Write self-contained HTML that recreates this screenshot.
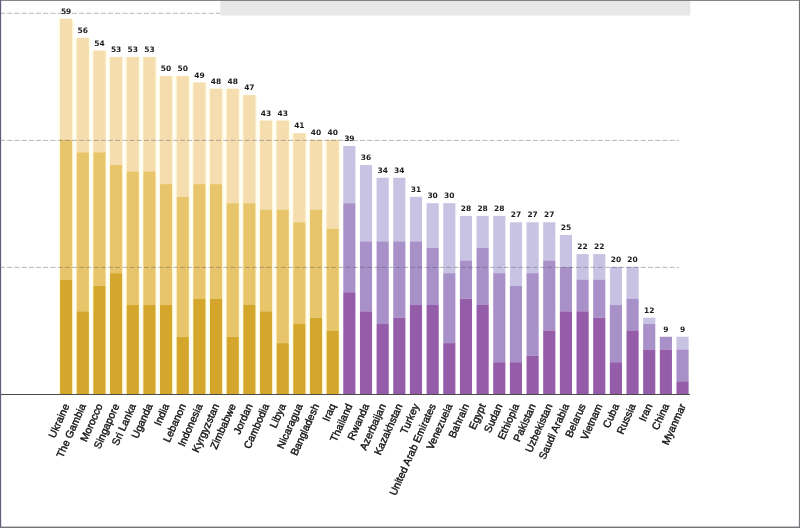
<!DOCTYPE html>
<html><head><meta charset="utf-8"><title>Chart</title>
<style>
html,body{margin:0;padding:0;background:#fff;}
body{width:800px;height:528px;overflow:hidden;}
svg{display:block;font-family:"Liberation Sans","DejaVu Sans",sans-serif;}
.v{font-family:"DejaVu Sans","Liberation Sans",sans-serif;font-size:7.5px;font-weight:bold;fill:#1c1c1c;text-anchor:middle;}
.l{font-size:10.5px;fill:#141414;stroke:#141414;stroke-width:0.4px;text-anchor:end;}
</style></head><body>
<svg width="800" height="528" viewBox="0 0 800 528">
<rect x="0" y="0" width="800" height="528" fill="#ffffff"/>
<rect x="220.3" y="0" width="470" height="15.5" fill="#e7e7e8"/>
<rect x="58.45" y="18.76" width="15.35" height="375.24" fill="#FFFCE3"/><rect x="75.11" y="37.84" width="15.35" height="356.16" fill="#FFFCE3"/><rect x="91.77" y="50.56" width="15.35" height="343.44" fill="#FFFCE3"/><rect x="108.43" y="56.92" width="15.35" height="337.08" fill="#FFFCE3"/><rect x="125.09" y="56.92" width="15.35" height="337.08" fill="#FFFCE3"/><rect x="141.75" y="56.92" width="15.35" height="337.08" fill="#FFFCE3"/><rect x="158.41" y="76.00" width="15.35" height="318.00" fill="#FFFCE3"/><rect x="175.07" y="76.00" width="15.35" height="318.00" fill="#FFFCE3"/><rect x="191.73" y="82.36" width="15.35" height="311.64" fill="#FFFCE3"/><rect x="208.39" y="88.72" width="15.35" height="305.28" fill="#FFFCE3"/><rect x="225.05" y="88.72" width="15.35" height="305.28" fill="#FFFCE3"/><rect x="241.71" y="95.08" width="15.35" height="298.92" fill="#FFFCE3"/><rect x="258.37" y="120.52" width="15.35" height="273.48" fill="#FFFCE3"/><rect x="275.03" y="120.52" width="15.35" height="273.48" fill="#FFFCE3"/><rect x="291.69" y="133.24" width="15.35" height="260.76" fill="#FFFCE3"/><rect x="308.35" y="139.60" width="15.35" height="254.40" fill="#FFFCE3"/><rect x="325.01" y="139.60" width="15.35" height="254.40" fill="#FFFCE3"/>
<rect x="60.05" y="18.76" width="12.15" height="120.84" fill="#F5DDB0"/><rect x="60.05" y="139.60" width="12.15" height="139.92" fill="#E8C46B"/><rect x="60.05" y="279.52" width="12.15" height="114.48" fill="#D4A62C"/><rect x="76.71" y="37.84" width="12.15" height="114.48" fill="#F5DDB0"/><rect x="76.71" y="152.32" width="12.15" height="159.00" fill="#E8C46B"/><rect x="76.71" y="311.32" width="12.15" height="82.68" fill="#D4A62C"/><rect x="93.37" y="50.56" width="12.15" height="101.76" fill="#F5DDB0"/><rect x="93.37" y="152.32" width="12.15" height="133.56" fill="#E8C46B"/><rect x="93.37" y="285.88" width="12.15" height="108.12" fill="#D4A62C"/><rect x="110.03" y="56.92" width="12.15" height="108.12" fill="#F5DDB0"/><rect x="110.03" y="165.04" width="12.15" height="108.12" fill="#E8C46B"/><rect x="110.03" y="273.16" width="12.15" height="120.84" fill="#D4A62C"/><rect x="126.69" y="56.92" width="12.15" height="114.48" fill="#F5DDB0"/><rect x="126.69" y="171.40" width="12.15" height="133.56" fill="#E8C46B"/><rect x="126.69" y="304.96" width="12.15" height="89.04" fill="#D4A62C"/><rect x="143.35" y="56.92" width="12.15" height="114.48" fill="#F5DDB0"/><rect x="143.35" y="171.40" width="12.15" height="133.56" fill="#E8C46B"/><rect x="143.35" y="304.96" width="12.15" height="89.04" fill="#D4A62C"/><rect x="160.01" y="76.00" width="12.15" height="108.12" fill="#F5DDB0"/><rect x="160.01" y="184.12" width="12.15" height="120.84" fill="#E8C46B"/><rect x="160.01" y="304.96" width="12.15" height="89.04" fill="#D4A62C"/><rect x="176.67" y="76.00" width="12.15" height="120.84" fill="#F5DDB0"/><rect x="176.67" y="196.84" width="12.15" height="139.92" fill="#E8C46B"/><rect x="176.67" y="336.76" width="12.15" height="57.24" fill="#D4A62C"/><rect x="193.33" y="82.36" width="12.15" height="101.76" fill="#F5DDB0"/><rect x="193.33" y="184.12" width="12.15" height="114.48" fill="#E8C46B"/><rect x="193.33" y="298.60" width="12.15" height="95.40" fill="#D4A62C"/><rect x="209.99" y="88.72" width="12.15" height="95.40" fill="#F5DDB0"/><rect x="209.99" y="184.12" width="12.15" height="114.48" fill="#E8C46B"/><rect x="209.99" y="298.60" width="12.15" height="95.40" fill="#D4A62C"/><rect x="226.65" y="88.72" width="12.15" height="114.48" fill="#F5DDB0"/><rect x="226.65" y="203.20" width="12.15" height="133.56" fill="#E8C46B"/><rect x="226.65" y="336.76" width="12.15" height="57.24" fill="#D4A62C"/><rect x="243.31" y="95.08" width="12.15" height="108.12" fill="#F5DDB0"/><rect x="243.31" y="203.20" width="12.15" height="101.76" fill="#E8C46B"/><rect x="243.31" y="304.96" width="12.15" height="89.04" fill="#D4A62C"/><rect x="259.97" y="120.52" width="12.15" height="89.04" fill="#F5DDB0"/><rect x="259.97" y="209.56" width="12.15" height="101.76" fill="#E8C46B"/><rect x="259.97" y="311.32" width="12.15" height="82.68" fill="#D4A62C"/><rect x="276.63" y="120.52" width="12.15" height="89.04" fill="#F5DDB0"/><rect x="276.63" y="209.56" width="12.15" height="133.56" fill="#E8C46B"/><rect x="276.63" y="343.12" width="12.15" height="50.88" fill="#D4A62C"/><rect x="293.29" y="133.24" width="12.15" height="89.04" fill="#F5DDB0"/><rect x="293.29" y="222.28" width="12.15" height="101.76" fill="#E8C46B"/><rect x="293.29" y="324.04" width="12.15" height="69.96" fill="#D4A62C"/><rect x="309.95" y="139.60" width="12.15" height="69.96" fill="#F5DDB0"/><rect x="309.95" y="209.56" width="12.15" height="108.12" fill="#E8C46B"/><rect x="309.95" y="317.68" width="12.15" height="76.32" fill="#D4A62C"/><rect x="326.61" y="139.60" width="12.15" height="89.04" fill="#F5DDB0"/><rect x="326.61" y="228.64" width="12.15" height="101.76" fill="#E8C46B"/><rect x="326.61" y="330.40" width="12.15" height="63.60" fill="#D4A62C"/><rect x="343.27" y="145.96" width="12.15" height="57.24" fill="#C8C2E3"/><rect x="343.27" y="203.20" width="12.15" height="89.04" fill="#A891C8"/><rect x="343.27" y="292.24" width="12.15" height="101.76" fill="#955CA9"/><rect x="359.93" y="165.04" width="12.15" height="76.32" fill="#C8C2E3"/><rect x="359.93" y="241.36" width="12.15" height="69.96" fill="#A891C8"/><rect x="359.93" y="311.32" width="12.15" height="82.68" fill="#955CA9"/><rect x="376.59" y="177.76" width="12.15" height="63.60" fill="#C8C2E3"/><rect x="376.59" y="241.36" width="12.15" height="82.68" fill="#A891C8"/><rect x="376.59" y="324.04" width="12.15" height="69.96" fill="#955CA9"/><rect x="393.25" y="177.76" width="12.15" height="63.60" fill="#C8C2E3"/><rect x="393.25" y="241.36" width="12.15" height="76.32" fill="#A891C8"/><rect x="393.25" y="317.68" width="12.15" height="76.32" fill="#955CA9"/><rect x="409.91" y="196.84" width="12.15" height="44.52" fill="#C8C2E3"/><rect x="409.91" y="241.36" width="12.15" height="63.60" fill="#A891C8"/><rect x="409.91" y="304.96" width="12.15" height="89.04" fill="#955CA9"/><rect x="426.57" y="203.20" width="12.15" height="44.52" fill="#C8C2E3"/><rect x="426.57" y="247.72" width="12.15" height="57.24" fill="#A891C8"/><rect x="426.57" y="304.96" width="12.15" height="89.04" fill="#955CA9"/><rect x="443.23" y="203.20" width="12.15" height="69.96" fill="#C8C2E3"/><rect x="443.23" y="273.16" width="12.15" height="69.96" fill="#A891C8"/><rect x="443.23" y="343.12" width="12.15" height="50.88" fill="#955CA9"/><rect x="459.89" y="215.92" width="12.15" height="44.52" fill="#C8C2E3"/><rect x="459.89" y="260.44" width="12.15" height="38.16" fill="#A891C8"/><rect x="459.89" y="298.60" width="12.15" height="95.40" fill="#955CA9"/><rect x="476.55" y="215.92" width="12.15" height="31.80" fill="#C8C2E3"/><rect x="476.55" y="247.72" width="12.15" height="57.24" fill="#A891C8"/><rect x="476.55" y="304.96" width="12.15" height="89.04" fill="#955CA9"/><rect x="493.21" y="215.92" width="12.15" height="57.24" fill="#C8C2E3"/><rect x="493.21" y="273.16" width="12.15" height="89.04" fill="#A891C8"/><rect x="493.21" y="362.20" width="12.15" height="31.80" fill="#955CA9"/><rect x="509.87" y="222.28" width="12.15" height="63.60" fill="#C8C2E3"/><rect x="509.87" y="285.88" width="12.15" height="76.32" fill="#A891C8"/><rect x="509.87" y="362.20" width="12.15" height="31.80" fill="#955CA9"/><rect x="526.53" y="222.28" width="12.15" height="50.88" fill="#C8C2E3"/><rect x="526.53" y="273.16" width="12.15" height="82.68" fill="#A891C8"/><rect x="526.53" y="355.84" width="12.15" height="38.16" fill="#955CA9"/><rect x="543.19" y="222.28" width="12.15" height="38.16" fill="#C8C2E3"/><rect x="543.19" y="260.44" width="12.15" height="69.96" fill="#A891C8"/><rect x="543.19" y="330.40" width="12.15" height="63.60" fill="#955CA9"/><rect x="559.85" y="235.00" width="12.15" height="31.80" fill="#C8C2E3"/><rect x="559.85" y="266.80" width="12.15" height="44.52" fill="#A891C8"/><rect x="559.85" y="311.32" width="12.15" height="82.68" fill="#955CA9"/><rect x="576.51" y="254.08" width="12.15" height="25.44" fill="#C8C2E3"/><rect x="576.51" y="279.52" width="12.15" height="31.80" fill="#A891C8"/><rect x="576.51" y="311.32" width="12.15" height="82.68" fill="#955CA9"/><rect x="593.17" y="254.08" width="12.15" height="25.44" fill="#C8C2E3"/><rect x="593.17" y="279.52" width="12.15" height="38.16" fill="#A891C8"/><rect x="593.17" y="317.68" width="12.15" height="76.32" fill="#955CA9"/><rect x="609.83" y="266.80" width="12.15" height="38.16" fill="#C8C2E3"/><rect x="609.83" y="304.96" width="12.15" height="57.24" fill="#A891C8"/><rect x="609.83" y="362.20" width="12.15" height="31.80" fill="#955CA9"/><rect x="626.49" y="266.80" width="12.15" height="31.80" fill="#C8C2E3"/><rect x="626.49" y="298.60" width="12.15" height="31.80" fill="#A891C8"/><rect x="626.49" y="330.40" width="12.15" height="63.60" fill="#955CA9"/><rect x="643.15" y="317.68" width="12.15" height="6.36" fill="#C8C2E3"/><rect x="643.15" y="324.04" width="12.15" height="25.44" fill="#A891C8"/><rect x="643.15" y="349.48" width="12.15" height="44.52" fill="#955CA9"/><rect x="659.81" y="336.76" width="12.15" height="12.72" fill="#A891C8"/><rect x="659.81" y="349.48" width="12.15" height="44.52" fill="#955CA9"/><rect x="676.47" y="336.76" width="12.15" height="12.72" fill="#C8C2E3"/><rect x="676.47" y="349.48" width="12.15" height="31.80" fill="#A891C8"/><rect x="676.47" y="381.28" width="12.15" height="12.72" fill="#955CA9"/>
<line x1="0" y1="13.30" x2="220" y2="13.30" stroke="#50505a" stroke-opacity="0.42" stroke-width="1" stroke-dasharray="5 2.2"/>
<line x1="0" y1="140.40" x2="679" y2="140.40" stroke="#50505a" stroke-opacity="0.42" stroke-width="1" stroke-dasharray="5 2.2"/>
<line x1="0" y1="267.40" x2="679" y2="267.40" stroke="#50505a" stroke-opacity="0.42" stroke-width="1" stroke-dasharray="5 2.2"/>
<line x1="0" y1="394.5" x2="690" y2="394.5" stroke="#4a4a4a" stroke-width="1"/>
<text class="v" x="66.12" y="13.96">59</text><text class="l" transform="translate(69.53,405.70) rotate(-66)">Ukraine</text>
<text class="v" x="82.78" y="33.04">56</text><text class="l" transform="translate(86.19,405.70) rotate(-66)">The Gambia</text>
<text class="v" x="99.45" y="45.76">54</text><text class="l" transform="translate(102.85,405.70) rotate(-66)">Morocco</text>
<text class="v" x="116.11" y="52.12">53</text><text class="l" transform="translate(119.51,405.70) rotate(-66)">Singapore</text>
<text class="v" x="132.76" y="52.12">53</text><text class="l" transform="translate(136.16,405.70) rotate(-66)">Sri Lanka</text>
<text class="v" x="149.42" y="52.12">53</text><text class="l" transform="translate(152.82,405.70) rotate(-66)">Uganda</text>
<text class="v" x="166.08" y="71.20">50</text><text class="l" transform="translate(169.48,405.70) rotate(-66)">India</text>
<text class="v" x="182.75" y="71.20">50</text><text class="l" transform="translate(186.15,405.70) rotate(-66)">Lebanon</text>
<text class="v" x="199.40" y="77.56">49</text><text class="l" transform="translate(202.80,405.70) rotate(-66)">Indonesia</text>
<text class="v" x="216.06" y="83.92">48</text><text class="l" transform="translate(219.47,405.70) rotate(-66)">Kyrgyzstan</text>
<text class="v" x="232.72" y="83.92">48</text><text class="l" transform="translate(236.12,405.70) rotate(-66)">Zimbabwe</text>
<text class="v" x="249.38" y="90.28">47</text><text class="l" transform="translate(252.78,405.70) rotate(-66)">Jordan</text>
<text class="v" x="266.05" y="115.72">43</text><text class="l" transform="translate(269.44,405.70) rotate(-66)">Cambodia</text>
<text class="v" x="282.70" y="115.72">43</text><text class="l" transform="translate(286.10,405.70) rotate(-66)">Libya</text>
<text class="v" x="299.37" y="128.44">41</text><text class="l" transform="translate(302.76,405.70) rotate(-66)">Nicaragua</text>
<text class="v" x="316.02" y="134.80">40</text><text class="l" transform="translate(319.42,405.70) rotate(-66)">Bangladesh</text>
<text class="v" x="332.69" y="134.80">40</text><text class="l" transform="translate(336.08,405.70) rotate(-66)">Iraq</text>
<text class="v" x="349.35" y="141.16">39</text><text class="l" transform="translate(352.75,405.70) rotate(-66)">Thailand</text>
<text class="v" x="366.00" y="160.24">36</text><text class="l" transform="translate(369.40,405.70) rotate(-66)">Rwanda</text>
<text class="v" x="382.67" y="172.96">34</text><text class="l" transform="translate(386.06,405.70) rotate(-66)">Azerbaijan</text>
<text class="v" x="399.32" y="172.96">34</text><text class="l" transform="translate(402.72,405.70) rotate(-66)">Kazakhstan</text>
<text class="v" x="415.99" y="192.04">31</text><text class="l" transform="translate(419.38,405.70) rotate(-66)">Turkey</text>
<text class="v" x="432.64" y="198.40">30</text><text class="l" transform="translate(436.04,405.70) rotate(-66)">United Arab Emirates</text>
<text class="v" x="449.31" y="198.40">30</text><text class="l" transform="translate(452.70,405.70) rotate(-66)">Venezuela</text>
<text class="v" x="465.97" y="211.12">28</text><text class="l" transform="translate(469.37,405.70) rotate(-66)">Bahrain</text>
<text class="v" x="482.62" y="211.12">28</text><text class="l" transform="translate(486.02,405.70) rotate(-66)">Egypt</text>
<text class="v" x="499.29" y="211.12">28</text><text class="l" transform="translate(502.69,405.70) rotate(-66)">Sudan</text>
<text class="v" x="515.95" y="217.48">27</text><text class="l" transform="translate(519.35,405.70) rotate(-66)">Ethiopia</text>
<text class="v" x="532.61" y="217.48">27</text><text class="l" transform="translate(536.00,405.70) rotate(-66)">Pakistan</text>
<text class="v" x="549.26" y="217.48">27</text><text class="l" transform="translate(552.66,405.70) rotate(-66)">Uzbekistan</text>
<text class="v" x="565.93" y="230.20">25</text><text class="l" transform="translate(569.33,405.70) rotate(-66)">Saudi Arabia</text>
<text class="v" x="582.59" y="249.28">22</text><text class="l" transform="translate(585.99,405.70) rotate(-66)">Belarus</text>
<text class="v" x="599.25" y="249.28">22</text><text class="l" transform="translate(602.64,405.70) rotate(-66)">Vietnam</text>
<text class="v" x="615.90" y="262.00">20</text><text class="l" transform="translate(619.30,405.70) rotate(-66)">Cuba</text>
<text class="v" x="632.57" y="262.00">20</text><text class="l" transform="translate(635.97,405.70) rotate(-66)">Russia</text>
<text class="v" x="649.23" y="312.88">12</text><text class="l" transform="translate(652.62,405.70) rotate(-66)">Iran</text>
<text class="v" x="665.88" y="331.96">9</text><text class="l" transform="translate(669.28,405.70) rotate(-66)">China</text>
<text class="v" x="682.54" y="331.96">9</text><text class="l" transform="translate(685.94,405.70) rotate(-66)">Myanmar</text>
<rect x="0" y="0" width="800" height="0.8" fill="#66676f"/><rect x="0" y="0" width="1.15" height="528" fill="#5c5e7e"/><rect x="798.9" y="0" width="1.1" height="528" fill="#74757b"/><rect x="0" y="526.6" width="800" height="1.4" fill="#73747c"/></svg></body></html>
